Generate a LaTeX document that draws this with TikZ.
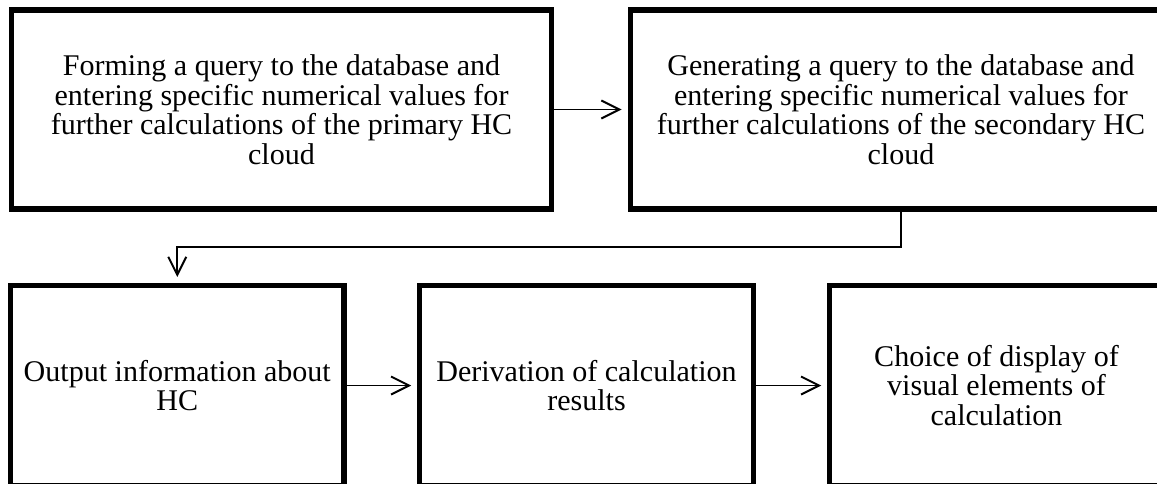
\documentclass[tikz,border=0pt]{standalone}
\usepackage{fontspec}
\setmainfont{Liberation Serif}
\usetikzlibrary{arrows.meta, positioning}

\begin{document}
\begin{tikzpicture}[
  box/.style={draw, line width=2.85pt, align=center, inner sep=0pt, font=\fontsize{17.1pt}{16.8pt}\selectfont},
  wide/.style={box, minimum width=10.8cm, minimum height=3.98cm},
  narrow/.style={box, minimum width=6.67cm, minimum height=4cm},
  conn/.style={line width=1.1pt, -{Straight Barb[length=0.36cm, width=0.36cm]}, shorten >=0.12cm}
]
  \useasboundingbox (0, 0) rectangle (23.14, 9.66);
  \clip (0, 0) rectangle (23.14, 9.66);
  % Queries
  \node[wide] (q1) at (5.63, 7.47) {Forming a query to the database and\\entering specific numerical values for\\further calculations of the primary HC\\cloud};
  \node[wide, minimum width=10.84cm] (q2) at (18.02, 7.47) {Generating a query to the database and\\entering specific numerical values for\\further calculations of the secondary HC\\cloud};
  % Output
  \node[narrow] (out) at (3.545, 1.95) {Output information about\\HC};
  \node[narrow] (res) at (11.73, 1.95) {Derivation of calculation\\results};
  \node[narrow] (vis) at (19.93, 1.95) {Choice of display of\\visual elements of\\calculation};

  \draw[conn] (q1) -- (q2);
  \draw[conn] (q2.south) -- ++(0, -0.71) -| (out.north);
  \draw[conn] (out) -- (res);
  \draw[conn] (res) -- (vis);
\end{tikzpicture}
\end{document}
